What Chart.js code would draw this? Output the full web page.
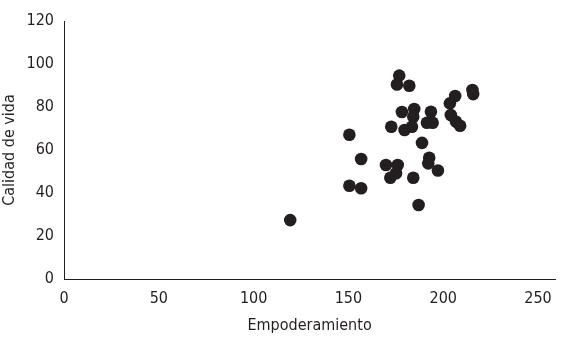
<!DOCTYPE html>
<html>
<head>
<meta charset="utf-8">
<script src="https://cdn.jsdelivr.net/npm/chart.js@4/dist/chart.umd.min.js"></script>
<style>
html,body{margin:0;padding:0;background:#fff;}
#wrap{width:562px;height:343px;position:relative;}
</style>
</head>
<body>
<div id="wrap"><canvas id="c" width="562" height="343"></canvas></div>
<script>
const empoderamiento = [176.8,175.6,182.1,215.4,215.8,206.3,203.5,178.2,184.7,184.2,193.5,191.4,194.4,204.0,206.7,208.9,172.6,179.6,183.5,150.5,188.8,156.7,192.6,192.1,169.8,176.0,197.2,175.1,172.1,184.2,150.5,156.7,187.0,119.3];
const calidadDeVida = [94.6,90.5,89.9,87.9,86.0,85.1,81.7,77.7,79.1,75.5,77.8,72.7,72.7,76.3,73.2,71.3,70.8,69.3,70.8,67.1,63.3,55.8,56.4,53.8,53.0,53.0,50.5,49.2,47.1,47.1,43.4,42.2,34.4,27.4];
const xTicks = [0,50,100,150,200,250];
const yTicks = [0,20,40,60,80,100,120];

const points = empoderamiento.map((x,i)=>({x:x,y:calidadDeVida[i]}));
const FONT = "'DejaVu Sans Condensed','Liberation Sans Narrow','Arial Narrow',sans-serif";

new Chart(document.getElementById('c'), {
  type: 'scatter',
  data: { datasets: [{ data: points, backgroundColor:'#231f20', borderColor:'#231f20', pointRadius:6.3, pointHoverRadius:6.3, borderWidth:0 }] },
  options: {
    responsive:false, animation:false, devicePixelRatio:1,
    layout:{ padding:{ left:0, right:6, top:21, bottom:0 } },
    plugins:{ legend:{display:false}, tooltip:{enabled:false} },
    scales:{
      x:{
        type:'linear', min:0, max:259,
        afterBuildTicks:(s)=>{ s.ticks = xTicks.map(v=>({value:v})); },
        afterFit:(s)=>{ s.height = 64; },
        grid:{ display:false, drawTicks:false },
        border:{ color:'#231f20', width:1 },
        ticks:{ color:'#231f20', font:{family:FONT,size:16}, padding:10 },
        title:{ display:true, text:'Empoderamiento', color:'#231f20', font:{family:FONT,size:16}, padding:{top:2,bottom:8} }
      },
      y:{
        type:'linear', min:0, max:120,
        afterBuildTicks:(s)=>{ s.ticks = yTicks.map(v=>({value:v})); },
        afterFit:(s)=>{ s.width = 64; },
        grid:{ display:false, drawTicks:false },
        border:{ color:'#231f20', width:1 },
        ticks:{ color:'#231f20', font:{family:FONT,size:16}, padding:10 },
        title:{ display:true, text:'Calidad de vida', color:'#231f20', font:{family:FONT,size:16}, padding:{top:0,bottom:0} }
      }
    }
  }
});
</script>
</body>
</html>
